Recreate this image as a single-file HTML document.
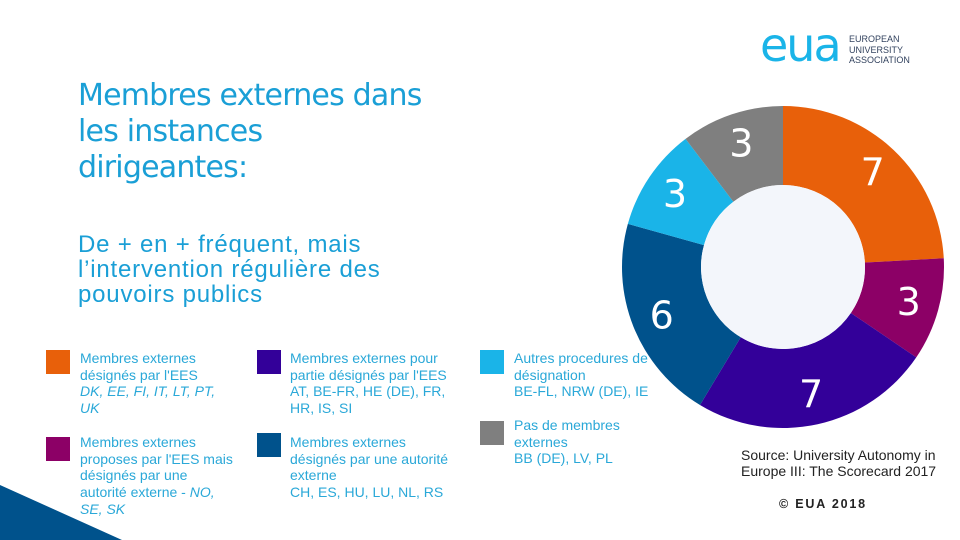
<!DOCTYPE html>
<html><head><meta charset="utf-8">
<style>
body{margin:0;width:960px;height:540px;overflow:hidden;background:#fff;font-family:"Liberation Sans",sans-serif;position:relative}
.a{position:absolute}
.title{left:78px;top:78px;font-size:30px;line-height:36px;color:#1a9fd6;font-family:"DejaVu Sans","Liberation Sans",sans-serif;letter-spacing:-0.8px}
.sub{left:78px;top:232px;font-size:24px;line-height:25px;color:#1a9fd6;letter-spacing:0.8px}
.sw{position:absolute;width:24px;height:24px}
.lt{position:absolute;font-size:14px;line-height:16.7px;color:#2aa8d8}
.lt i{font-style:italic}
</style></head><body>
<svg class="a" style="left:0;top:0" width="960" height="540">
<polygon points="0,485 122,540 0,540" fill="#00528c"/>
</svg>
<div class="a" style="left:760px;top:22px;">
<span style="font-size:46px;color:#1ab4e8;font-family:'DejaVu Sans',sans-serif;letter-spacing:-2px;line-height:46px">eua</span>
<div class="a" style="left:89px;top:12px;font-size:9px;line-height:10.5px;color:#33435f;white-space:nowrap">EUROPEAN<br>UNIVERSITY<br>ASSOCIATION</div>
</div>
<div class="a title">Membres externes dans<br>les instances<br>dirigeantes:</div>
<div class="a sub">De + en + fréquent, mais<br>l’intervention régulière des<br>pouvoirs publics</div>

<div class="sw" style="left:46px;top:350px;background:#e8600a"></div>
<div class="lt" style="left:80px;top:350px">Membres externes<br>désignés par l'EES<br><i>DK, EE, FI, IT, LT, PT,<br>UK</i></div>
<div class="sw" style="left:46px;top:437px;background:#8c0066"></div>
<div class="lt" style="left:80px;top:434px">Membres externes<br>proposes par l'EES mais<br>désignés par une<br>autorité externe - <i>NO,<br>SE, SK</i></div>
<div class="sw" style="left:257px;top:350px;background:#330099"></div>
<div class="lt" style="left:290px;top:350px">Membres externes pour<br>partie désignés par l'EES<br>AT, BE-FR, HE (DE), FR,<br>HR, IS, SI</div>
<div class="sw" style="left:257px;top:433px;background:#00528c"></div>
<div class="lt" style="left:290px;top:434px">Membres externes<br>désignés par une autorité<br>externe<br>CH, ES, HU, LU, NL, RS</div>
<div class="sw" style="left:480px;top:350px;background:#1ab4e8"></div>
<div class="lt" style="left:514px;top:350px">Autres procedures de<br>désignation<br>BE-FL, NRW (DE), IE</div>
<div class="sw" style="left:480px;top:421px;background:#7f7f7f"></div>
<div class="lt" style="left:514px;top:417px">Pas de membres<br>externes<br>BB (DE), LV, PL</div>

<div class="a" style="left:741px;top:447px;font-size:14px;line-height:16px;color:#222">Source: University Autonomy in<br>Europe III: The Scorecard 2017</div>
<div class="a" style="left:779px;top:497px;font-size:12.5px;font-weight:bold;color:#222;letter-spacing:1.8px">© EUA 2018</div>

<svg id="donut" class="a" style="left:0;top:0" width="960" height="540"></svg>
<script>
const categories=["EES","Proposes","Partie","Autorite","Autres","Pas"];
const values=[7,3,7,6,3,3];
const colors=["#e8600a","#8c0066","#330099","#00528c","#1ab4e8","#7f7f7f"];
const svg=document.getElementById('donut');
const ns="http://www.w3.org/2000/svg";
const cx=783,cy=267,R=161,r=82;
const total=values.reduce((a,b)=>a+b,0);
function pt(a,rad){return [cx+rad*Math.sin(a),cy-rad*Math.cos(a)];}
let acc=0;
values.forEach((v,i)=>{
 const a0=acc/total*2*Math.PI; acc+=v; const a1=acc/total*2*Math.PI;
 const large=(a1-a0)>Math.PI?1:0;
 const [x0,y0]=pt(a0,R),[x1,y1]=pt(a1,R),[x2,y2]=pt(a1,r),[x3,y3]=pt(a0,r);
 const p=document.createElementNS(ns,'path');
 p.setAttribute('d',`M${x0},${y0}A${R},${R} 0 ${large} 1 ${x1},${y1}L${x2},${y2}A${r},${r} 0 ${large} 0 ${x3},${y3}Z`);
 p.setAttribute('fill',colors[i]);
 
 
 svg.appendChild(p);
 const am=(a0+a1)/2; const [lx,ly]=pt(am,(R+r)/2+9);
 const t=document.createElementNS(ns,'text');
 t.setAttribute('x',lx);t.setAttribute('y',ly+13);
 t.setAttribute('text-anchor','middle');t.setAttribute('fill','#fff');
 t.setAttribute('font-size','38');t.setAttribute('font-family','DejaVu Sans, Liberation Sans, sans-serif');
 t.textContent=v;
 
 
 svg.appendChild(t);
});
const c=document.createElementNS(ns,'circle');
c.setAttribute('cx',cx);c.setAttribute('cy',cy);c.setAttribute('r',r);c.setAttribute('fill','#f3f6fb');


svg.appendChild(c);
</script>
</body></html>
